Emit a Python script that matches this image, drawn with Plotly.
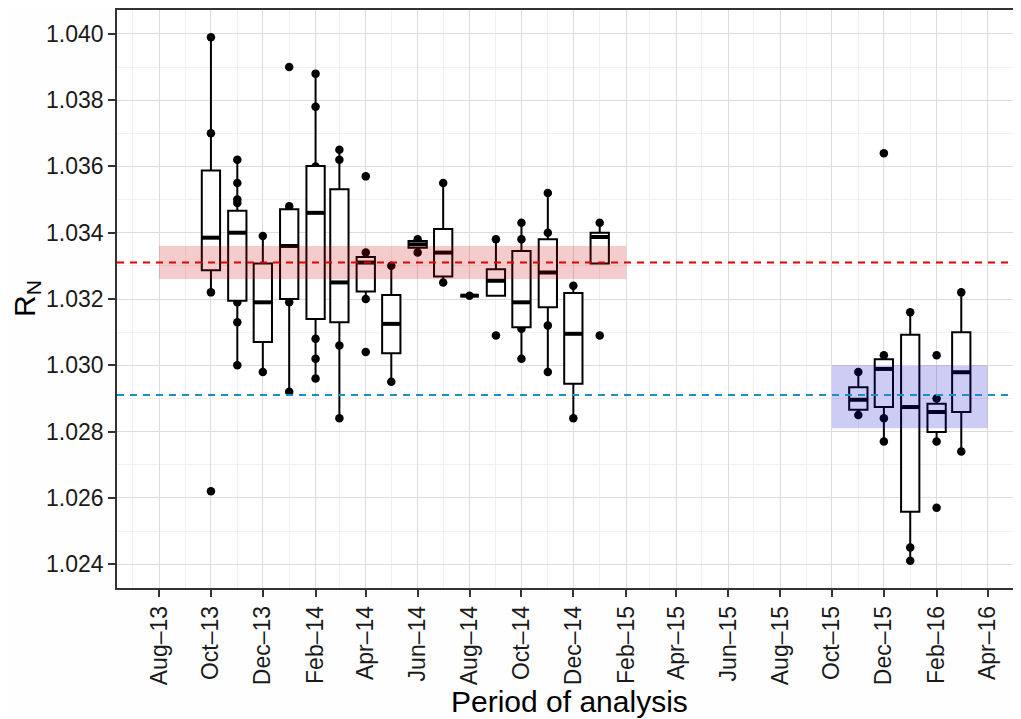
import pandas as pd
import plotly.graph_objects as go

# ---------------- data ----------------
months = ["2013-10-01", "2013-11-01", "2013-12-01", "2014-01-01", "2014-02-01",
          "2014-03-01", "2014-04-01", "2014-05-01", "2014-06-01", "2014-07-01",
          "2014-08-01", "2014-09-01", "2014-10-01", "2014-11-01", "2014-12-01",
          "2015-01-01", "2015-11-01", "2015-12-01", "2016-01-01", "2016-02-01",
          "2016-03-01"]
q1 = [1.03287, 1.03195, 1.03070, 1.03200, 1.03140, 1.03130, 1.03223, 1.03036,
      1.03355, 1.03268, 1.03210, 1.03210, 1.03115, 1.03175, 1.02944, 1.03307,
      1.02866, 1.02874, 1.02558, 1.02799, 1.02859]
median = [1.03385, 1.03400, 1.03190, 1.03360, 1.03460, 1.03250, 1.03310, 1.03125,
          1.03365, 1.03340, 1.03210, 1.03255, 1.03190, 1.03280, 1.03095, 1.03387,
          1.02896, 1.02989, 1.02874, 1.02859, 1.02979]
q3 = [1.03588, 1.03466, 1.03307, 1.03471, 1.03601, 1.03531, 1.03327, 1.03212,
      1.03375, 1.03411, 1.03210, 1.03290, 1.03345, 1.03380, 1.03218, 1.03400,
      1.02934, 1.03018, 1.03092, 1.02884, 1.03100]
whisk_lo = [1.0322, 1.0300, 1.0298, 1.0292, 1.0296, 1.0284, 1.0320, 1.0295,
            1.0334, 1.0325, 1.0321, 1.0321, 1.0302, 1.0298, 1.0284, 1.03307,
            1.0285, 1.0277, 1.0241, 1.0277, 1.0274]
whisk_hi = [1.0399, 1.0362, 1.0339, 1.0348, 1.0388, 1.0365, 1.0334, 1.0330,
            1.0338, 1.0355, 1.0321, 1.0338, 1.0343, 1.0352, 1.0324, 1.0343,
            1.0298, 1.0302, 1.0316, 1.0290, 1.0322]

# observations visible outside the boxes, per month
obs = {
    "2013-10-01": [1.0399, 1.0370, 1.0322, 1.0262],
    "2013-11-01": [1.0362, 1.0355, 1.0350, 1.0349, 1.0319, 1.0313, 1.0300],
    "2013-12-01": [1.0339, 1.0298],
    "2014-01-01": [1.0390, 1.0348, 1.0319, 1.0292],
    "2014-02-01": [1.0388, 1.0378, 1.0360, 1.0308, 1.0302, 1.0296],
    "2014-03-01": [1.0365, 1.0362, 1.0306, 1.0284],
    "2014-04-01": [1.0357, 1.0334, 1.0320, 1.0304],
    "2014-05-01": [1.0330, 1.0295],
    "2014-06-01": [1.0338, 1.0334],
    "2014-07-01": [1.0355, 1.0325],
    "2014-08-01": [1.0321],
    "2014-09-01": [1.0338, 1.0309],
    "2014-10-01": [1.0343, 1.0338, 1.0311, 1.0302],
    "2014-11-01": [1.0352, 1.0340, 1.0312, 1.0298],
    "2014-12-01": [1.0324, 1.0284],
    "2015-01-01": [1.0343, 1.0309],
    "2015-11-01": [1.0298, 1.0285],
    "2015-12-01": [1.0364, 1.0303, 1.0284, 1.0277],
    "2016-01-01": [1.0316, 1.0245, 1.0241],
    "2016-02-01": [1.0303, 1.0290, 1.0277, 1.0257],
    "2016-03-01": [1.0322, 1.0274],
}

# reference bands (mean +- spread) and mean lines
red_band_x = ["2013-08-01", "2015-02-01"]
red_band_y = [1.0326, 1.0336]
red_mean = 1.0331
blue_band_x = ["2015-10-01", "2016-04-01"]
blue_band_y = [1.0281, 1.0300]
blue_mean = 1.0291

tick_dates = ["2013-08-01", "2013-10-01", "2013-12-01", "2014-02-01", "2014-04-01",
              "2014-06-01", "2014-08-01", "2014-10-01", "2014-12-01", "2015-02-01",
              "2015-04-01", "2015-06-01", "2015-08-01", "2015-10-01", "2015-12-01",
              "2016-02-01", "2016-04-01"]
tick_labels = ["Aug–13", "Oct–13", "Dec–13", "Feb–14", "Apr–14", "Jun–14", "Aug–14",
               "Oct–14", "Dec–14", "Feb–15", "Apr–15", "Jun–15", "Aug–15", "Oct–15",
               "Dec–15", "Feb–16", "Apr–16"]

x_range = ["2013-06-12 14:00", "2016-05-10 05:00"]
y_range = [1.02328, 1.04072]

# ---------------- figure ----------------
FONT = "Liberation Sans, Arial, sans-serif"
box_days = 21.5
box_ms = box_days * 86400000

fig = go.Figure()

# points (drawn on the base subplot, beneath the boxes)
px_, py_ = [], []
for m, vals in obs.items():
    for v in vals:
        px_.append(m)
        py_.append(v)
fig.add_trace(go.Scatter(x=px_, y=py_, mode="markers",
                         marker=dict(color="black", size=8.5),
                         showlegend=False, hoverinfo="skip"))

# boxes on overlay subplot so they sit above the points
fig.add_trace(go.Box(x=months, q1=q1, median=median, q3=q3,
                     lowerfence=whisk_lo, upperfence=whisk_hi,
                     width=box_ms, boxpoints=False, whiskerwidth=0,
                     fillcolor="white", line=dict(color="black", width=2),
                     xaxis="x2", yaxis="y2", showlegend=False, hoverinfo="skip"))

# thick median bars
mx, my = [], []
half = pd.Timedelta(days=box_days / 2)
for m, md in zip(months, median):
    t = pd.Timestamp(m)
    mx += [t - half, t + half, None]
    my += [md, md, None]
fig.add_trace(go.Scatter(x=mx, y=my, mode="lines",
                         line=dict(color="black", width=4),
                         xaxis="x2", yaxis="y2", showlegend=False, hoverinfo="skip"))

# bands and mean lines
fig.add_shape(type="rect", xref="x", yref="y", x0=red_band_x[0], x1=red_band_x[1],
              y0=red_band_y[0], y1=red_band_y[1], fillcolor="rgba(204,0,0,0.2)",
              line=dict(width=0), layer="above")
fig.add_shape(type="rect", xref="x", yref="y", x0=blue_band_x[0], x1=blue_band_x[1],
              y0=blue_band_y[0], y1=blue_band_y[1], fillcolor="rgba(0,0,204,0.2)",
              line=dict(width=0), layer="above")
fig.add_shape(type="line", xref="paper", yref="y", x0=0, x1=1, y0=red_mean, y1=red_mean,
              line=dict(color="#dd0000", width=2, dash="7px,6px"), layer="above")
fig.add_shape(type="line", xref="paper", yref="y", x0=0, x1=1, y0=blue_mean, y1=blue_mean,
              line=dict(color="#1c8fc9", width=2, dash="7px,6px"), layer="above")

axis_common = dict(showline=True, linecolor="#333333", linewidth=1.5,
                   ticks="outside", ticklen=7, tickwidth=1.5, tickcolor="#333333",
                   gridcolor="#dcdcdc", gridwidth=1.3, zeroline=False,
                   tickfont=dict(family=FONT, size=23, color="#1a1a1a"))

# the page body adds an 8px offset, so the figure is sized to end at the window edge
fig.update_layout(
    width=1013, height=711,
    margin=dict(l=109, r=0, t=0, b=131),
    paper_bgcolor="#fefefe", plot_bgcolor="#ffffff",
    font=dict(family=FONT, color="black"),
    showlegend=False,
    xaxis=dict(type="date", range=x_range, tickmode="array", tickvals=tick_dates,
               ticktext=tick_labels, tickangle=-90, mirror=True,
               minor=dict(tickmode="linear", tick0="2013-07-01", dtick="M2",
                          showgrid=True, gridcolor="#f4eeee", gridwidth=1.3, ticks=""),
               **axis_common),
    yaxis=dict(range=y_range, tickmode="linear", tick0=1.024, dtick=0.002,
               tickformat=".3f",
               minor=dict(tickmode="linear", tick0=1.023, dtick=0.002,
                          showgrid=True, gridcolor="#f4eeee", gridwidth=1.3, ticks=""),
               **axis_common),
    xaxis2=dict(type="date", overlaying="x", matches="x", anchor="y2", visible=False,
                showgrid=False),
    yaxis2=dict(overlaying="y", matches="y", anchor="x2", visible=False,
                showgrid=False),
)

fig.add_annotation(text="Period of analysis", xref="paper", yref="paper",
                   x=0.5, y=0, yshift=-113, showarrow=False, yanchor="middle",
                   font=dict(family=FONT, size=30, color="black"))
fig.add_annotation(text="R<sub>N</sub>", xref="paper", yref="paper",
                   x=0, xshift=-91, y=0.5, showarrow=False, textangle=-90,
                   xanchor="center", yanchor="middle",
                   font=dict(family=FONT, size=30, color="black"))

fig.write_html("out.html")
